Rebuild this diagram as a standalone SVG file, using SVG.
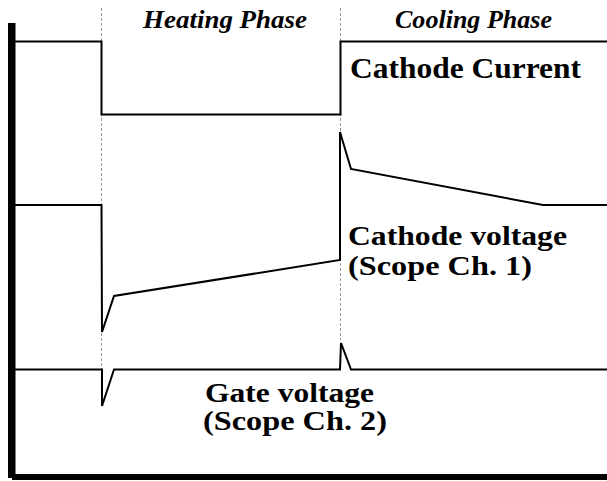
<svg xmlns="http://www.w3.org/2000/svg" width="607" height="481" viewBox="0 0 607 481">
<style>
.sig{fill:none;stroke:#000;stroke-width:2;stroke-linejoin:miter}
.guide{stroke:#999;stroke-width:1;stroke-dasharray:3,2;fill:none}
.ph{font-family:"Liberation Serif",serif;font-style:italic;font-weight:bold;font-size:25.5px;fill:#000}
.lbl{font-family:"Liberation Serif",serif;font-weight:bold;font-size:30px;fill:#000}
.lbl2{font-family:"Liberation Serif",serif;font-weight:bold;font-size:27px;fill:#000}
</style>
<rect width="607" height="481" fill="#fff"/>
<g id="guides">
<line class="guide" x1="101.5" y1="8" x2="101.5" y2="405"/>
<line class="guide" x1="340.5" y1="8" x2="340.5" y2="340"/>
</g>
<g id="axes">
<rect x="8" y="23" width="7.5" height="455" fill="#000"/>
<rect x="12" y="474" width="595" height="6" fill="#000"/>
</g>
<g id="connectors">
<polyline id="cathode-current" class="sig" points="15,41.5 101.5,41.5 101.5,114.5 340.5,114.5 340.5,41.5 607,41.5"/>
<polyline id="cathode-voltage" class="sig" points="15,205 101.5,205 102,332 114,296 340,260 340,132 351,169 543,205 607,205"/>
<polyline id="gate-voltage" class="sig" points="15,369.5 102,369.5 102,406 114,369.5 340,369.5 341,343 351,369.5 607,369.5"/>
</g>
<g id="phase-heating"><text class="ph" x="143" y="28" textLength="164" lengthAdjust="spacingAndGlyphs">Heating  Phase</text></g>
<g id="phase-cooling"><text class="ph" x="395" y="28" textLength="157" lengthAdjust="spacingAndGlyphs">Cooling Phase</text></g>
<g id="label-current"><text class="lbl" x="350" y="77.5" textLength="231" lengthAdjust="spacingAndGlyphs">Cathode Current</text></g>
<g id="label-cathode-voltage">
<text class="lbl2" x="348" y="245" textLength="219" lengthAdjust="spacingAndGlyphs">Cathode voltage</text>
<text class="lbl2" x="348" y="275" textLength="184" lengthAdjust="spacingAndGlyphs">(Scope Ch. 1)</text>
</g>
<g id="label-gate-voltage">
<text class="lbl2" x="205" y="401.5" textLength="169" lengthAdjust="spacingAndGlyphs">Gate voltage</text>
<text class="lbl2" x="203" y="430" textLength="184" lengthAdjust="spacingAndGlyphs">(Scope Ch. 2)</text>
</g>
</svg>
